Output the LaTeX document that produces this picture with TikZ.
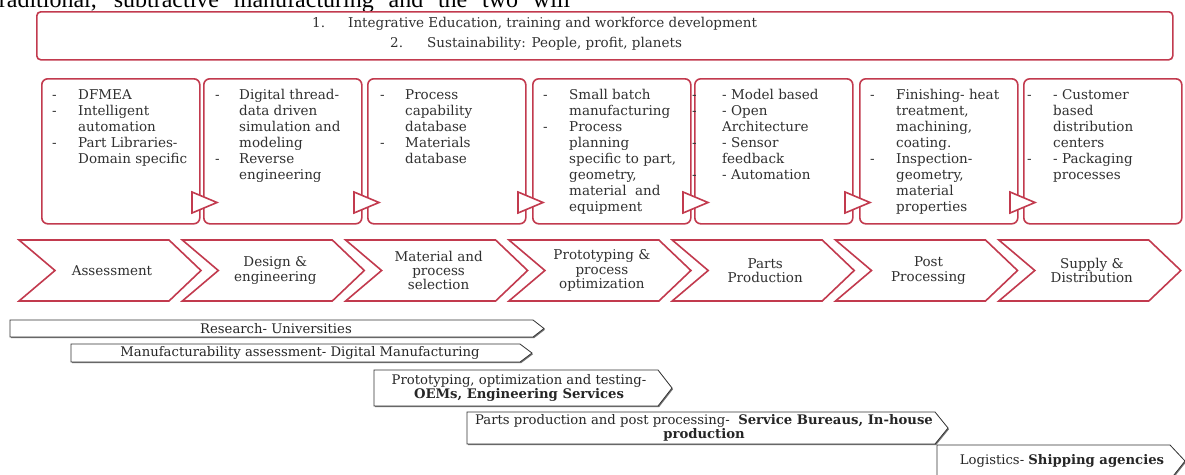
\documentclass[tikz,border=0pt]{standalone}
\usepackage{fontspec}
\setmainfont{DejaVu Serif}
\newfontfamily\topfont{Liberation Serif}
\usetikzlibrary{shadows}
\definecolor{cred}{RGB}{194,58,78}
\definecolor{ctext}{RGB}{48,48,48}
\newcommand{\bxfont}{\fontsize{13.5}{16}\selectfont}
\newcommand{\chfont}{\fontsize{13.5}{14.3}\selectfont}
\newcommand{\btfont}{\fontsize{13.2}{14}\selectfont}
\newcommand{\tpfont}{\fontsize{13.5}{14}\selectfont}
\newcommand{\bxtab}[2]{\begin{tabular}[t]{@{}p{#1pt}@{}l@{}}#2\end{tabular}}
\begin{document}
\begin{tikzpicture}[x=1pt,y=-1pt,
  redbox/.style={draw=cred, line width=1.6pt, fill=white, rounded corners=6pt, inner sep=0pt, anchor=north west, minimum width=158pt, minimum height=145pt},
  tri/.style={draw=cred, line width=1.6pt, fill=white, line join=miter},
  chev/.style={draw=cred, line width=1.6pt, fill=white, line join=miter},
  barrow/.style={draw=black!80, line width=0.8pt, fill=white, drop shadow={shadow xshift=1pt, shadow yshift=-1.2pt, opacity=0.55, fill=black}},
  bxtext/.style={anchor=base west, inner sep=0pt, text=ctext, font=\bxfont},
  chtext/.style={align=center, inner sep=0pt, text=ctext, font=\chfont},
  bttext/.style={inner sep=0pt, text=black!85, font=\btfont, align=center},
  tptext/.style={anchor=base west, inner sep=0pt, text=ctext, font=\tpfont}]
\useasboundingbox (0,0) rectangle (1185,474);
\clip (0,0) rectangle (1185,474);

% clipped running text from page above
\node[anchor=base west, inner sep=0pt, font=\topfont\fontsize{24}{26}\selectfont] (runtext) at (-8,7)
  {\makebox[578pt][s]{traditional, subtractive manufacturing and the two will}};

% top box
\node[draw=cred, line width=1.6pt, rounded corners=4pt, inner sep=0pt, anchor=north west,
  minimum width=1136pt, minimum height=48pt] (topbox) at (36,11) {};
\node[tptext] (n1) at (312,27) {1.};
\node[tptext] (t1) at (348,27) {Integrative Education, training and\ workforce development};
\node[tptext] (n2) at (390,47) {2.};
\node[tptext] (t2) at (427,47) {Sustainability: People, profit, planets};

% seven boxes
\node[redbox] (b1) at (41,78) {};
\node[redbox] (b2) at (203,78) {};
\node[redbox] (b3) at (367,78) {};
\node[redbox] (b4) at (532,78) {};
\node[redbox] (b5) at (694,78) {};
\node[redbox] (b6) at (859,78) {};
\node[redbox] (b7) at (1023,78) {};

% triangles
\foreach \r in {199,361,525,690,852,1017}{
  \draw[tri] (\r-7,192) -- (\r+18,202.5) -- (\r-7,213) -- cycle;
}

% box texts
\node[bxtext] (bt1) at (52,99) {\bxtab{26}{-&DFMEA\\-&Intelligent\\&automation\\-&Part Libraries-\\&Domain specific}};
\node[bxtext] (bt2) at (215,99) {\bxtab{24}{-&Digital thread-\\&data driven\\&simulation and\\&modeling\\-&Reverse\\&engineering}};
\node[bxtext] (bt3) at (380,99) {\bxtab{25}{-&Process\\&capability\\&database\\-&Materials\\&database}};
\node[bxtext] (bt4) at (543,99) {\bxtab{26}{-&Small batch\\&manufacturing\\-&Process\\&planning\\&specific to part,\\&geometry,\\&material\ \ and\\&equipment}};
\node[bxtext] (bt5) at (692,99) {\bxtab{30}{-&- Model based\\-&- Open\\&Architecture\\-&- Sensor\\&feedback\\-&- Automation}};
\node[bxtext] (bt6) at (870,99) {\bxtab{26}{-&Finishing- heat\\&treatment,\\&machining,\\&coating.\\-&Inspection-\\&geometry,\\&material\\&properties}};
\node[bxtext] (bt7) at (1027,99) {\bxtab{26}{-&- Customer\\&based\\&distribution\\&centers\\-&- Packaging\\&processes}};

% chevrons
\foreach \i/\t in {0/{Assessment},1/{Design \&\\engineering},2/{Material and\\process\\selection},3/{Prototyping \&\\process\\optimization},4/{Parts\\Production},5/{Post\\Processing},6/{Supply \&\\Distribution}}{
  \pgfmathsetmacro{\xo}{19+163.3*\i}
  \draw[chev] (\xo,240) -- (\xo+150,240) -- (\xo+182,270.5) -- (\xo+150,301) -- (\xo,301) -- (\xo+36,270.5) -- cycle;
  \node[chtext] (ch\i) at (\xo+93,270.5) {\t};
}

% bottom arrows
\draw[barrow] (10,320) -- (533,320) -- (544,328.5) -- (533,337) -- (10,337) -- cycle;
\node[bttext] (a1) at (276,328.5) {Research- Universities};
\draw[barrow] (71,344) -- (520,344) -- (532,353) -- (520,362) -- (71,362) -- cycle;
\node[bttext] (a2) at (300,353) {Manufacturability assessment- Digital Manufacturing};
\draw[barrow] (374,370) -- (658,370) -- (672,388) -- (658,406) -- (374,406) -- cycle;
\node[bttext] (a3) at (519,388) {Prototyping, optimization and testing-\\\textbf{OEMs, Engineering Services}};
\draw[barrow] (467,412) -- (935,412) -- (948,428) -- (935,444) -- (467,444) -- cycle;
\node[bttext] (a4) at (704,427.5) {Parts production and post processing-\ \ \textbf{Service Bureaus, In-house}\\\textbf{production}};
\draw[barrow] (937,445) -- (1170,445) -- (1185,461) -- (1170,480) -- (937,480) -- cycle;
\node[bttext] (a5) at (1062,461) {Logistics- \textbf{Shipping agencies}};
\end{tikzpicture}
\end{document}
